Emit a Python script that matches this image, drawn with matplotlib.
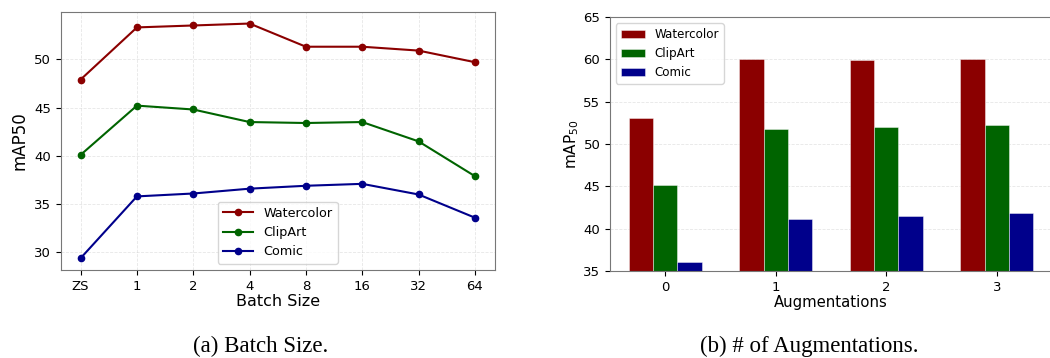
import matplotlib
matplotlib.use("Agg")
import matplotlib.pyplot as plt
import numpy as np

# (a) batch size
batch_labels = ["ZS", "1", "2", "4", "8", "16", "32", "64"]
watercolor_bs = [47.9, 53.3, 53.5, 53.7, 51.3, 51.3, 50.9, 49.7]
clipart_bs = [40.1, 45.2, 44.8, 43.5, 43.4, 43.5, 41.5, 37.9]
comic_bs = [29.4, 35.8, 36.1, 36.6, 36.9, 37.1, 36.0, 33.6]

# (b) number of augmentations
aug_labels = ["0", "1", "2", "3"]
watercolor_aug = [53.1, 60.1, 59.9, 60.1]
clipart_aug = [45.2, 51.8, 52.0, 52.3]
comic_aug = [36.1, 41.2, 41.5, 41.9]

series_names = ["Watercolor", "ClipArt", "Comic"]
colors = ["#8b0000", "#006400", "#00008b"]

fig = plt.figure(figsize=(10.5, 3.58), dpi=100)

# left panel: line plot
ax1 = fig.add_axes([0.058, 0.246, 0.413, 0.721])
x = np.arange(len(batch_labels))
for vals, name, c in zip([watercolor_bs, clipart_bs, comic_bs], series_names, colors):
    ax1.plot(x, vals, marker="o", markersize=4.5, linewidth=1.5, color=c, label=name)
ax1.set_xticks(x)
ax1.set_xticklabels(batch_labels)
ax1.set_yticks([30, 35, 40, 45, 50])
ax1.tick_params(labelsize=9.5)
ax1.set_xlabel("Batch Size", fontsize=11.5, labelpad=1)
ax1.set_ylabel("mAP50", fontsize=12)
ax1.grid(True, linestyle="--", linewidth=0.6, alpha=0.3)
for s in ax1.spines.values():
    s.set_color("#777777")
ax1.legend(loc="lower center", fontsize=9.2, handlelength=2.4)

# right panel: grouped bars
ax2 = fig.add_axes([0.581, 0.243, 0.421, 0.709])
xa = np.arange(len(aug_labels))
w = 0.22
for i, (vals, name, c) in enumerate(zip([watercolor_aug, clipart_aug, comic_aug], series_names, colors)):
    ax2.bar(xa + (i - 1) * w, vals, width=w, color=c, label=name,
            edgecolor=(1, 1, 1, 0.5), linewidth=0.6)
ax2.set_ylim(35, 65)
ax2.set_xlim(-0.5, 3.5)
ax2.set_xticks(xa)
ax2.set_xticklabels(aug_labels)
ax2.tick_params(labelsize=9.5)
ax2.set_xlabel("Augmentations", fontsize=10.7, labelpad=1)
ax2.set_ylabel("mAP$_{50}$", fontsize=11, labelpad=2)
ax2.yaxis.grid(True, linestyle="--", linewidth=0.6, alpha=0.3)
ax2.set_axisbelow(True)
for s in ax2.spines.values():
    s.set_color("#777777")
ax2.legend(loc="upper left", fontsize=8.6)

fig.text(0.248, 0.032, "(a) Batch Size.", ha="center", va="center",
         fontsize=16.5, family="Liberation Serif")
fig.text(0.771, 0.032, "(b) # of Augmentations.", ha="center", va="center",
         fontsize=16.5, family="Liberation Serif")

fig.savefig("out.png", dpi=100)
